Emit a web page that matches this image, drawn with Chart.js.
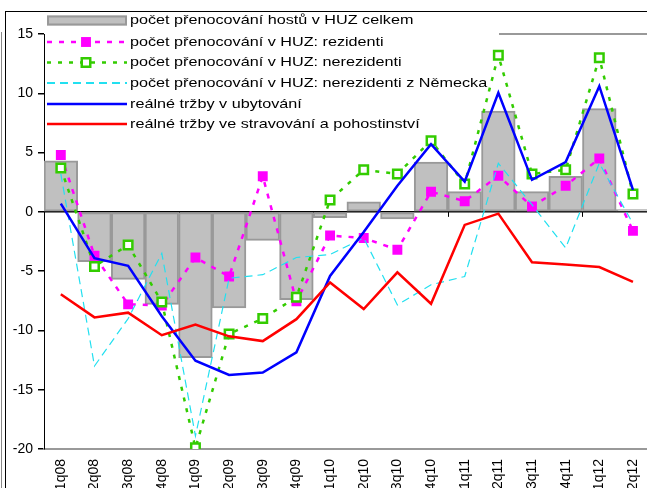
<!DOCTYPE html>
<html>
<head>
<meta charset="utf-8">
<script src="https://cdn.jsdelivr.net/npm/chart.js"></script>
<style>
  body { margin: 0; overflow: hidden; background: #fff; }
  #wrap { position: relative; width: 660px; height: 488px; }
  #chart { position: absolute; left: 0; top: 0; }
  .frame-outer { position: absolute; left: 1px; top: 32px; width: 1px; height: 456px; background: #888; }
  .frame-inner { position: absolute; left: 5px; top: 11px; width: 1px; height: 477px; background: #000; }
  .frame-top { position: absolute; left: 5px; top: 11px; width: 655px; height: 1px; background: #000; }
</style>
</head>
<body>
<div id="wrap">
  <canvas id="chart" width="660" height="488"></canvas>
  <div class="frame-outer"></div>
  <div class="frame-inner"></div>
  <div class="frame-top"></div>
</div>
<script>
const quarters = ['1q08', '2q08', '3q08', '4q08', '1q09', '2q09', '3q09', '4q09', '1q10',
                  '2q10', '3q10', '4q10', '1q11', '2q11', '3q11', '4q11', '1q12', '2q12'];

const hostsTotal    = [4.3, -4.2, -5.7, -7.8, -12.3, -8.1, -2.4, -7.4, -0.5, 0.85, -0.6, 4.2, 1.7, 8.5, 1.7, 3.0, 8.7, 0.2];
const residents     = [4.8, -3.7, -7.8, -7.9, -3.85, -5.45, 3.0, -7.55, -2.0, -2.2, -3.2, 1.7, 0.9, 3.05, 0.45, 2.2, 4.5, -1.6];
const nonResidents  = [3.7, -4.6, -2.8, -7.6, -19.9, -10.3, -9.0, -7.2, 1.0, 3.55, 3.2, 6.0, 2.35, 13.2, 3.2, 3.55, 13.0, 1.5];
const fromGermany   = [3.2, -13.0, -9.0, -3.5, -18.9, -5.6, -5.3, -3.85, -3.6, -2.2, -7.85, -6.15, -5.45, 4.1, 0.6, -3.05, 4.1, -1.0];
const accommodation = [0.7, -3.9, -4.55, -8.8, -12.55, -13.75, -13.55, -11.85, -5.4, -1.7, 2.2, 5.7, 2.55, 10.05, 2.7, 4.2, 10.6, 1.85];
const catering      = [-6.95, -8.9, -8.5, -10.4, -9.5, -10.5, -10.9, -9.05, -5.95, -8.2, -5.1, -7.75, -1.1, -0.15, -4.25, -4.45, -4.65, -5.9];

const seriesLabels = [
  'počet přenocování hostů v HUZ celkem',
  'počet přenocování v HUZ: rezidenti',
  'počet přenocování v HUZ: nerezidenti',
  'počet přenocování v HUZ: nerezidenti z Německa',
  'reálné tržby v ubytování',
  'reálné tržby ve stravování a pohostinství'
];

const FONT = '"Liberation Sans", Arial, sans-serif';

// plot frame, zero line ticks and the legend drawn over the plot
const decorPlugin = {
  id: 'decor',
  beforeDatasetsDraw(chart) {
    const ctx = chart.ctx;
    const area = chart.chartArea;
    const x = chart.scales.x;
    const y = chart.scales.y;
    ctx.save();
    // top frame line shows only to the right of the legend
    ctx.strokeStyle = '#999';
    ctx.lineWidth = 2;
    ctx.beginPath();
    ctx.moveTo(499, area.top);
    ctx.lineTo(area.right, area.top);
    ctx.stroke();
    // small ticks on the zero line, every 4 quarters
    const y0 = y.getPixelForValue(0);
    ctx.strokeStyle = '#000';
    ctx.lineWidth = 1;
    for (let i = 4; i < quarters.length; i += 4) {
      const px = Math.round((x.getPixelForValue(i - 1) + x.getPixelForValue(i)) / 2) + 0.5;
      ctx.beginPath();
      ctx.moveTo(px, y0);
      ctx.lineTo(px, y0 + 5);
      ctx.stroke();
    }
    ctx.restore();
  },
  afterDraw(chart) {
    const ctx = chart.ctx;
    ctx.save();
    const sx0 = 47, sx1 = 127, tx = 130;
    const rows = [20.5, 42, 62.5, 83, 104, 124];
    ctx.font = '13px ' + FONT;
    ctx.textBaseline = 'middle';

    rows.forEach((ry, i) => {
      const ds = chart.data.datasets[i];
      if (i === 0) {
        ctx.fillStyle = ds.backgroundColor;
        ctx.fillRect(sx0, ry - 5, sx1 - sx0, 10);
        ctx.strokeStyle = ds.borderColor;
        ctx.lineWidth = 2;
        ctx.strokeRect(sx0 + 1, ry - 4, sx1 - sx0 - 2, 8);
      } else {
        ctx.strokeStyle = ds.borderColor;
        ctx.lineWidth = i === 3 ? 2 : ds.borderWidth;
        ctx.setLineDash(ds.borderDash || []);
        ctx.beginPath();
        ctx.moveTo(sx0, ry);
        ctx.lineTo(sx1, ry);
        ctx.stroke();
        ctx.setLineDash([]);
        if (ds.pointRadius > 0) {
          const mx = 86;
          const s = ds.pointRadius * Math.SQRT1_2;
          ctx.fillStyle = ds.pointBackgroundColor;
          ctx.fillRect(mx - s, ry - s, 2 * s, 2 * s);
          if (ds.pointBorderWidth > 0) {
            ctx.strokeStyle = ds.pointBorderColor;
            ctx.lineWidth = ds.pointBorderWidth;
            ctx.strokeRect(mx - s, ry - s, 2 * s, 2 * s);
          }
        }
      }
      ctx.fillStyle = '#000';
      ctx.save();
      ctx.translate(tx, ry);
      ctx.scale(1.245, 1);
      ctx.fillText(seriesLabels[i], 0, 0);
      ctx.restore();
    });
    ctx.restore();
  }
};

const chart = new Chart(document.getElementById('chart'), {
  type: 'bar',
  data: {
    labels: quarters,
    datasets: [
      {
        type: 'bar',
        label: seriesLabels[0],
        data: hostsTotal,
        backgroundColor: '#c0c0c0',
        borderColor: '#999999',
        borderWidth: 2,
        borderSkipped: false,
        barPercentage: 1,
        categoryPercentage: 1,
        order: 6
      },
      {
        type: 'line',
        label: seriesLabels[1],
        data: residents,
        borderColor: '#ff00ff',
        borderWidth: 2.5,
        borderDash: [5, 7],
        pointStyle: 'rect',
        pointRadius: 7,
        pointBackgroundColor: '#ff00ff',
        pointBorderColor: '#ff00ff',
        pointBorderWidth: 0,
        tension: 0,
        order: 5
      },
      {
        type: 'line',
        label: seriesLabels[2],
        data: nonResidents,
        borderColor: '#33cc00',
        borderWidth: 2.5,
        borderDash: [4, 7],
        pointStyle: 'rect',
        pointRadius: 6,
        pointBackgroundColor: '#ffffff',
        pointBorderColor: '#33cc00',
        pointBorderWidth: 2.5,
        tension: 0,
        order: 4
      },
      {
        type: 'line',
        label: seriesLabels[3],
        data: fromGermany,
        borderColor: '#22e0f0',
        borderWidth: 1.2,
        borderDash: [8, 5],
        pointRadius: 0,
        tension: 0,
        order: 3
      },
      {
        type: 'line',
        label: seriesLabels[4],
        data: accommodation,
        borderColor: '#0000ff',
        borderWidth: 2.5,
        pointRadius: 0,
        tension: 0,
        order: 2
      },
      {
        type: 'line',
        label: seriesLabels[5],
        data: catering,
        borderColor: '#ff0000',
        borderWidth: 2.5,
        pointRadius: 0,
        tension: 0,
        order: 1
      }
    ]
  },
  options: {
    responsive: false,
    animation: false,
    devicePixelRatio: 1,
    layout: { padding: { top: 34, right: 7, left: 0, bottom: 0 } },
    plugins: {
      legend: { display: false },
      tooltip: { enabled: false }
    },
    scales: {
      x: {
        offset: true,
        grid: { drawOnChartArea: false, drawTicks: false },
        border: { color: '#999', width: 2 },
        ticks: {
          color: '#000',
          font: { family: FONT, size: 14 },
          maxRotation: 90,
          minRotation: 90,
          autoSkip: false,
          padding: 10
        },
        afterFit(scale) { scale.height = 39; }
      },
      y: {
        min: -20,
        max: 15,
        ticks: {
          stepSize: 5,
          color: '#000',
          font: { family: FONT, size: 14 },
          padding: 5
        },
        grid: {
          color: (c) => (c.tick && c.tick.value === 0 ? '#000' : 'rgba(0,0,0,0)'),
          lineWidth: 1.5,
          tickColor: '#000',
          tickLength: 6
        },
        border: { color: '#000', width: 1 },
        afterFit(scale) { scale.width = 44; }
      }
    }
  },
  plugins: [decorPlugin]
});
</script>
</body>
</html>
